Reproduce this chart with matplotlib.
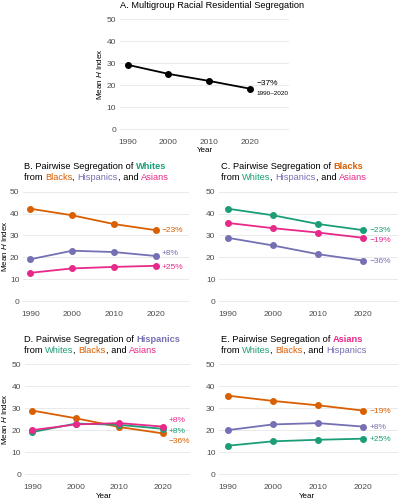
import matplotlib
matplotlib.use('Agg')
import matplotlib.pyplot as plt

# ---------------- data ----------------
years = [1990, 2000, 2010, 2020]
multigroup = [29.3, 25.2, 22.0, 18.5]
whites_blacks = [42.2, 39.2, 35.2, 32.4]
whites_hispanics = [19.1, 23.0, 22.4, 20.6]
whites_asians = [12.9, 14.9, 15.6, 16.1]
blacks_asians = [35.7, 33.3, 31.3, 28.9]
blacks_hispanics = [28.9, 25.4, 21.4, 18.5]
hispanics_asians = [20.0, 22.6, 23.2, 21.6]

multigroup_label = "\u221237%"
multigroup_period = "1990\u20132020"
labels_B = ["\u221223%", "+8%", "+25%"]
labels_C = ["\u221223%", "\u221219%", "\u221236%"]
labels_D = ["\u221236%", "+8%", "+8%"]
labels_E = ["\u221219%", "+8%", "+25%"]
yticks = [0, 10, 20, 30, 40, 50]

# ---------------- style ----------------
GREEN = '#1B9E77'
ORANGE = '#D95F02'
PURPLE = '#7570B3'
PINK = '#E7298A'
plt.rcParams['font.family'] = ['Liberation Sans', 'DejaVu Sans']
plt.rcParams['mathtext.fontset'] = 'custom'
plt.rcParams['mathtext.rm'] = 'Liberation Sans'
plt.rcParams['mathtext.it'] = 'Liberation Sans:italic'

W, H = 399, 500
fig = plt.figure(figsize=(W / 100, H / 100), dpi=100)
fig.patch.set_facecolor('white')

TICK_SIZE = 6.0
TITLE_SIZE = 6.7
LAB_SIZE = 5.8


def make_ax(x0, x1, y_top, y_bot, xlim):
    ax = fig.add_axes([x0 / W, 1 - y_bot / H, (x1 - x0) / W, (y_bot - y_top) / H])
    ax.set_xlim(*xlim)
    ax.set_ylim(-2.5, 52.5)
    ax.set_xticks(years)
    ax.set_xticklabels([str(y) for y in years])
    ax.set_yticks(yticks)
    for s in ax.spines.values():
        s.set_visible(False)
    ax.tick_params(length=0, labelsize=TICK_SIZE, labelcolor='#4d4d4d')
    ax.tick_params(axis='x', pad=3.2)
    ax.tick_params(axis='y', pad=2.8)
    ax.grid(axis='y', color='#e6e6e6', lw=0.6)
    ax.grid(axis='x', visible=False)
    ax.set_axisbelow(True)
    ax.set_facecolor('none')
    return ax


def series(ax, vals, color, label=None, dy=0, size=TICK_SIZE):
    ax.plot(years, vals, color=color, lw=1.3, marker='o', ms=4, zorder=3,
            clip_on=False)
    if label is not None:
        ax.annotate(label, xy=(years[-1], vals[-1]), xytext=(6, dy),
                    textcoords='offset pixels', color=color, fontsize=size,
                    va='center', ha='left')


def rich(x, y, parts, size=TITLE_SIZE):
    prev = fig.text(x / W, 1 - y / H, parts[0][0], color=parts[0][1],
                    fontweight=parts[0][2], fontsize=size, va='center', ha='left')
    for txt, col, wt in parts[1:]:
        prev = fig.text(0, 0, '', fontsize=size) if False else \
            plt.gcf().axes[0].annotate(txt, xy=(1, 0), xycoords=prev, color=col,
                                       fontweight=wt, fontsize=size,
                                       va='bottom', ha='left',
                                       annotation_clip=False)
    return prev


def ylabel(x, y):
    fig.text(x / W, 1 - y / H, r'Mean $\it{H}$ Index', rotation=90,
             fontsize=LAB_SIZE, ha='center', va='center')


def xlabel(x, y):
    fig.text(x / W, 1 - y / H, 'Year', fontsize=LAB_SIZE, ha='center', va='center')


# ---------------- Panel A ----------------
axA = make_ax(120, 289.3, 13.8, 134.8, (1988.1, 2029.8))
axA.plot(years, multigroup, color='black', lw=1.3, marker='o', ms=4, zorder=3)
axA.annotate(multigroup_label, xy=(years[-1], multigroup[-1]), xytext=(7, 5),
             textcoords='offset pixels', fontsize=TICK_SIZE, va='center', ha='left')
axA.annotate(multigroup_period, xy=(years[-1], multigroup[-1]), xytext=(7, -4.5),
             textcoords='offset pixels', fontsize=4.6, va='center', ha='left')
fig.text(120 / W, 1 - 5 / H, 'A. Multigroup Racial Residential Segregation',
         fontsize=TITLE_SIZE, va='center', ha='left')
ylabel(99.5, 74.3)
xlabel(204.6, 151)

# ---------------- Panel B ----------------
axB = make_ax(23.3, 189.3, 186.2, 306.5, (1988.3, 2028.1))
series(axB, whites_blacks, ORANGE, labels_B[0], dy=-0.7)
series(axB, whites_hispanics, PURPLE, labels_B[1], dy=2)
series(axB, whites_asians, PINK, labels_B[2], dy=-1.3)
ylabel(4.5, 246.3)

# ---------------- Panel C ----------------
axC = make_ax(219.3, 398, 186.2, 306.5, (1988.1, 2027.7))
series(axC, whites_blacks, GREEN, labels_C[0], dy=0)
series(axC, blacks_asians, PINK, labels_C[1], dy=-2.3)
series(axC, blacks_hispanics, PURPLE, labels_C[2], dy=-0.5)

# ---------------- Panel D ----------------
axD = make_ax(25, 190, 358.8, 479.5, (1988.3, 2026.2))
series(axD, blacks_hispanics, ORANGE, labels_D[0], dy=-8.4)
series(axD, whites_hispanics, GREEN, labels_D[1], dy=-2.7)
series(axD, hispanics_asians, PINK, labels_D[2], dy=6.3)
ylabel(4.5, 419)
xlabel(104, 496.5)

# ---------------- Panel E ----------------
axE = make_ax(219.3, 398, 358.8, 479.5, (1988.1, 2027.7))
series(axE, blacks_asians, ORANGE, labels_E[0], dy=-0.7)
series(axE, hispanics_asians, PURPLE, labels_E[1], dy=-0.7)
series(axE, whites_asians, GREEN, labels_E[2], dy=-0.7)
xlabel(307, 496.5)

# ---------------- titles ----------------
N, B = 'normal', 'bold'
K = 'black'
rich(24, 166.5, [("B. Pairwise Segregation of ", K, N), ("Whites", GREEN, B)])
rich(24, 177.5, [("from ", K, N), ("Blacks", ORANGE, N), (", ", K, N),
                 ("Hispanics", PURPLE, N), (", and ", K, N), ("Asians", PINK, N)])
rich(220.5, 166.5, [("C. Pairwise Segregation of ", K, N), ("Blacks", ORANGE, B)])
rich(220.5, 177.5, [("from ", K, N), ("Whites", GREEN, N), (", ", K, N),
                    ("Hispanics", PURPLE, N), (", and ", K, N), ("Asians", PINK, N)])
rich(23.5, 339.7, [("D. Pairwise Segregation of ", K, N), ("Hispanics", PURPLE, B)])
rich(23.5, 350.5, [("from ", K, N), ("Whites", GREEN, N), (", ", K, N),
                   ("Blacks", ORANGE, N), (", and ", K, N), ("Asians", PINK, N)])
rich(220.5, 340, [("E. Pairwise Segregation of ", K, N), ("Asians", PINK, B)])
rich(220.5, 350.7, [("from ", K, N), ("Whites", GREEN, N), (", ", K, N),
                    ("Blacks", ORANGE, N), (", and ", K, N), ("Hispanics", PURPLE, N)])

fig.savefig('out.png', dpi=100, facecolor='white')
